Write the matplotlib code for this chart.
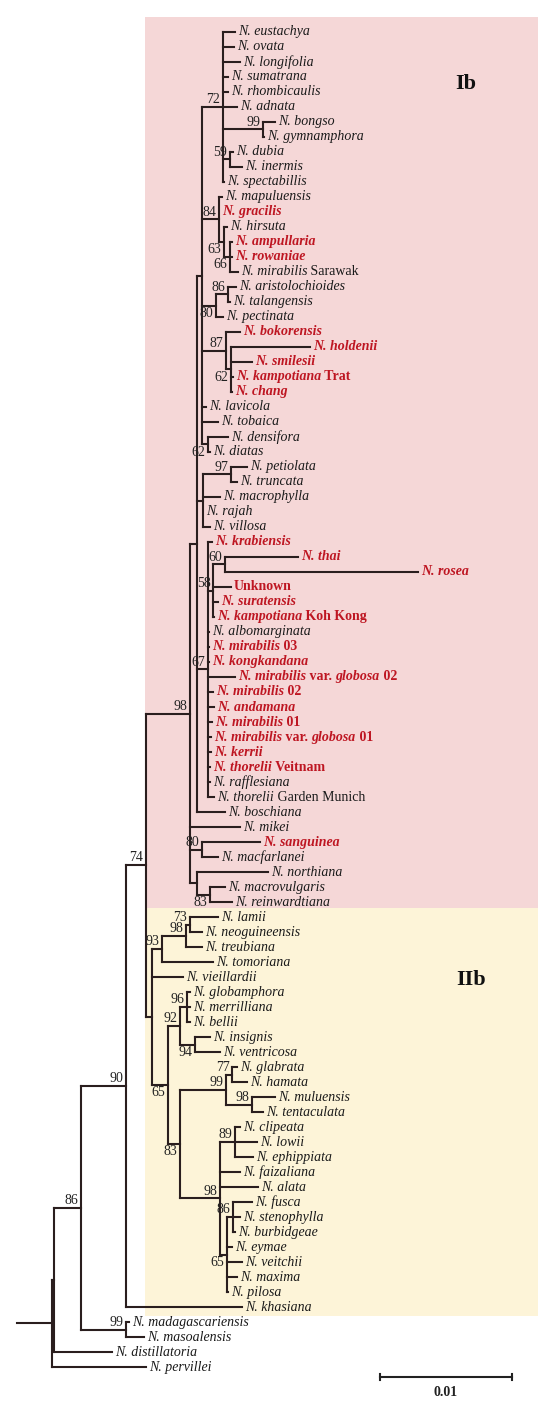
import matplotlib
matplotlib.use('Agg')
import matplotlib.pyplot as plt
from matplotlib.collections import LineCollection
from matplotlib.patches import Rectangle

plt.rcParams['font.family'] = ['Liberation Serif', 'DejaVu Serif']

# leaf labels top to bottom, *...* = italic part
leaf_labels = [
    "*N. eustachya*", "*N. ovata*", "*N. longifolia*", "*N. sumatrana*",
    "*N. rhombicaulis*", "*N. adnata*", "*N. bongso*", "*N. gymnamphora*",
    "*N. dubia*", "*N. inermis*", "*N. spectabillis*", "*N. mapuluensis*",
    "*N. gracilis*", "*N. hirsuta*", "*N. ampullaria*", "*N. rowaniae*",
    "*N. mirabilis* Sarawak", "*N. aristolochioides*", "*N. talangensis*",
    "*N. pectinata*", "*N. bokorensis*", "*N. holdenii*", "*N. smilesii*",
    "*N. kampotiana* Trat", "*N. chang*", "*N. lavicola*", "*N. tobaica*",
    "*N. densifora*", "*N. diatas*", "*N. petiolata*", "*N. truncata*",
    "*N. macrophylla*", "*N. rajah*", "*N. villosa*", "*N. krabiensis*",
    "*N. thai*", "*N. rosea*", "Unknown", "*N. suratensis*",
    "*N. kampotiana* Koh Kong", "*N. albomarginata*", "*N. mirabilis* 03",
    "*N. kongkandana*", "*N. mirabilis* var. *globosa* 02", "*N. mirabilis* 02",
    "*N. andamana*", "*N. mirabilis* 01", "*N. mirabilis* var. *globosa* 01",
    "*N. kerrii*", "*N. thorelii* Veitnam", "*N. rafflesiana*",
    "*N. thorelii* Garden Munich", "*N. boschiana*", "*N. mikei*",
    "*N. sanguinea*", "*N. macfarlanei*", "*N. northiana*",
    "*N. macrovulgaris*", "*N. reinwardtiana*",
    "*N. lamii*", "*N. neoguineensis*", "*N. treubiana*", "*N. tomoriana*",
    "*N. vieillardii*", "*N. globamphora*", "*N. merrilliana*", "*N. bellii*",
    "*N. insignis*", "*N. ventricosa*", "*N. glabrata*", "*N. hamata*",
    "*N. muluensis*", "*N. tentaculata*", "*N. clipeata*", "*N. lowii*",
    "*N. ephippiata*", "*N. faizaliana*", "*N. alata*", "*N. fusca*",
    "*N. stenophylla*", "*N. burbidgeae*", "*N. eymae*", "*N. veitchii*",
    "*N. maxima*", "*N. pilosa*", "*N. khasiana*", "*N. madagascariensis*",
    "*N. masoalensis*", "*N. distillatoria*", "*N. pervillei*",
]

# samples from this study (red)
highlighted = [12, 14, 15, 20, 21, 22, 23, 24, 34, 35, 36, 37, 38, 39,
               41, 42, 43, 44, 45, 46, 47, 48, 49, 54]

# distance of each tip from the root (subst./site)
tip_depth = [
    0.01386, 0.01379, 0.01424, 0.01333, 0.01333, 0.01402, 0.01689, 0.01606,
    0.01371, 0.01439, 0.01303, 0.01288, 0.01265, 0.01326, 0.01364, 0.01364,
    0.01409, 0.01394, 0.01348, 0.01295, 0.01424, 0.01955, 0.01515, 0.01371,
    0.01364, 0.01167, 0.01258, 0.01333, 0.01197, 0.01477, 0.01402, 0.01273,
    0.01144, 0.01197, 0.01212, 0.01864, 0.02773, 0.01356, 0.01258, 0.01227,
    0.01189, 0.01189, 0.01189, 0.01386, 0.01220, 0.01227, 0.01212, 0.01205,
    0.01205, 0.01197, 0.01197, 0.01227, 0.01311, 0.01424, 0.01576, 0.01258,
    0.01636, 0.01311, 0.01364,
    0.01258, 0.01136, 0.01136, 0.01220, 0.00992, 0.01045, 0.01045, 0.01045,
    0.01197, 0.01273, 0.01402, 0.01477, 0.01689, 0.01598, 0.01424, 0.01553,
    0.01523, 0.01424, 0.01561, 0.01515, 0.01424, 0.01386, 0.01364, 0.01439,
    0.01402, 0.01333, 0.01439, 0.00583, 0.00697, 0.00455, 0.00712,
]

# internal nodes: first and last leaf of the clade, node depth, bootstrap
clade_first = [0, 0, 0, 86, 0, 0, 0, 0, 0, 0, 6, 8, 11, 13, 14, 17, 17, 20,
               21, 27, 29, 29, 34, 35, 35, 54, 56, 57, 59, 59, 59, 59, 64, 64,
               64, 67, 69, 69, 69, 71, 73, 73, 78, 78]
clade_last = [89, 88, 87, 87, 85, 84, 58, 52, 28, 10, 7, 9, 16, 16, 16, 19, 18,
              24, 24, 28, 33, 30, 51, 39, 36, 55, 58, 58, 84, 62, 61, 60, 84,
              68, 66, 68, 84, 72, 70, 72, 84, 75, 84, 80]
clade_depth = [0.0, 0.00015, 0.0022, 0.0056, 0.0056, 0.00712, 0.01045,
               0.01098, 0.01136, 0.01295, 0.01598, 0.01348, 0.01265, 0.01303,
               0.01348, 0.01242, 0.01333, 0.01318, 0.01356, 0.01182, 0.01144,
               0.01356, 0.01182, 0.01220, 0.01311, 0.01136, 0.01098, 0.01197,
               0.00758, 0.00833, 0.01015, 0.01045, 0.00879, 0.00970, 0.01023,
               0.01083, 0.00970, 0.01318, 0.01364, 0.01515, 0.01273, 0.01386,
               0.01326, 0.01371]
clade_support = [None, None, 86, 99, 90, 74, 98, None, None, 72, 99, 59, 84,
                 63, 66, 80, 86, 87, 62, 62, None, 97, 67, 58, 60, 80, None,
                 83, None, 93, 98, 73, 65, 92, 96, 94, 83, 99, 77, 98, 98, 89,
                 65, 86]

# bootstrap values drawn under the branch instead of above
support_below = {13, 14, 15, 18, 19, 27, 32, 35, 36, 42}

n_leaf = len(leaf_labels)
n_clade = len(clade_first)
spans = [(i, i) for i in range(n_leaf)] + list(zip(clade_first, clade_last))
depth = list(tip_depth) + list(clade_depth)


def parent_of(k):
    a, b = spans[k]
    best = None
    for c in range(n_clade):
        ca, cb = clade_first[c], clade_last[c]
        if ca <= a and b <= cb and (ca, cb) != (a, b):
            if best is None or cb - ca < clade_last[best] - clade_first[best]:
                best = c
    return None if best is None else n_leaf + best


parent = [parent_of(k) for k in range(len(spans))]
children = {k: [] for k in range(n_leaf, len(spans))}
for k, p in enumerate(parent):
    if p is not None:
        children[p].append(k)

ypos = {i: float(i) for i in range(n_leaf)}
for k in sorted(range(n_leaf, len(spans)), key=lambda k: spans[k][1] - spans[k][0]):
    ch = sorted(children[k], key=lambda c: spans[c][0])
    ypos[k] = (ypos[ch[0]] + ypos[ch[-1]]) / 2

fig = plt.figure(figsize=(5.5, 14.08), dpi=100)
ax = fig.add_axes([0, 0, 1, 1])
ax.set_xlim(-0.00394, 0.03773)
ax.set_ylim(91.73, -2.13)
ax.axis('off')

FS = 10

# clade boxes
ax.add_patch(Rectangle((0.00705, -1.0), 0.02977, 59.4, facecolor='#F5D7D7',
                       edgecolor='none', zorder=0))
ax.add_patch(Rectangle((0.00705, 58.4), 0.02977, 27.2, facecolor='#FDF4D8',
                       edgecolor='none', zorder=0))
ax.text(0.03135, 3.5, 'Ib', fontsize=16, fontweight='bold', ha='center',
        va='center', color='#111')
ax.text(0.03175, 63.2, 'IIb', fontsize=16, fontweight='bold', ha='center',
        va='center', color='#111')

segs = []
for k, p in enumerate(parent):
    if p is not None:
        segs.append([(depth[p], ypos[k]), (depth[k], ypos[k])])
for k in range(n_leaf, len(spans)):
    ys = [ypos[c] for c in children[k]]
    segs.append([(depth[k], min(ys)), (depth[k], max(ys))])
root = n_leaf
segs.append([(-0.00265, ypos[root]), (0.0, ypos[root])])
ax.add_collection(LineCollection(segs, colors='#2a1e1e', linewidths=1.5,
                                 capstyle='projecting', zorder=2))

# bootstrap values
for c in range(n_clade):
    s = clade_support[c]
    if s is None:
        continue
    k = n_leaf + c
    if c in support_below:
        ax.text(depth[k] - 0.0002, ypos[k] + 0.1, str(s), fontsize=FS,
                ha='right', va='top', color='#222')
    else:
        ax.text(depth[k] - 0.0002, ypos[k] - 0.05, str(s), fontsize=FS,
                ha='right', va='bottom', color='#222')


def draw_label(x, y, text, red):
    color = '#BE1622' if red else '#1a1a1a'
    weight = 'bold' if red else 'normal'
    parts = text.split('*')
    prev = None
    for j, part in enumerate(parts):
        if not part:
            continue
        style = 'italic' if j % 2 == 1 else 'normal'
        if prev is None:
            prev = ax.text(x, y, part, fontsize=FS, style=style,
                           fontweight=weight, color=color, ha='left',
                           va='center', zorder=3)
        else:
            prev = ax.annotate(part, xy=(1, 0), xycoords=prev, fontsize=FS,
                               style=style, fontweight=weight, color=color,
                               ha='left', va='bottom', zorder=3)


for i, lab in enumerate(leaf_labels):
    draw_label(tip_depth[i] + 0.00022, ypos[i], lab, i in highlighted)

# scale bar
sb_x, sb_y = 0.02485, 89.67
ax.plot([sb_x, sb_x + 0.01], [sb_y, sb_y], color='#222', lw=1.5)
for xx in (sb_x, sb_x + 0.01):
    ax.plot([xx, xx], [sb_y - 0.22, sb_y + 0.22], color='#222', lw=1.5)
ax.text(sb_x + 0.005, sb_y + 1.05, '0.01', fontsize=10, fontweight='bold',
        ha='center', va='center', color='#222')

fig.savefig('out.png', dpi=100, facecolor='white')
